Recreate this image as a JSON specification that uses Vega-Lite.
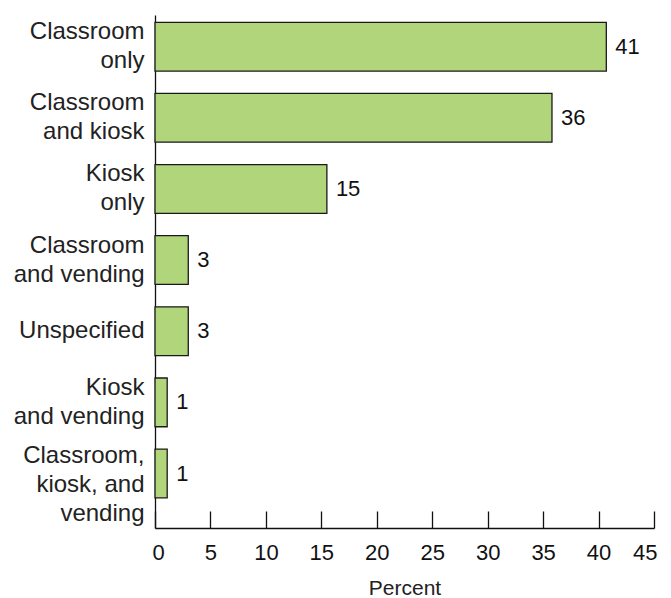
{
  "$schema": "https://vega.github.io/schema/vega-lite/v6.json",
  "autosize": {"type": "none"},
  "width": 499,
  "height": 513,
  "padding": {"left": 155, "top": 15, "right": 17, "bottom": 70},
  "background": "white",
  "config": {
    "font": "Liberation Sans",
    "view": {"stroke": null}
  },
  "data": {
    "values": [
      {"category": "Classroom|only", "percent": 40.7, "label": "41"},
      {"category": "Classroom|and kiosk", "percent": 35.8, "label": "36"},
      {"category": "Kiosk|only", "percent": 15.5, "label": "15"},
      {"category": "Classroom|and vending", "percent": 3.0, "label": "3"},
      {"category": "Unspecified", "percent": 3.0, "label": "3"},
      {"category": "Kiosk|and vending", "percent": 1.1, "label": "1"},
      {"category": "Classroom,|kiosk, and|vending", "percent": 1.1, "label": "1"}
    ]
  },
  "encoding": {
    "y": {
      "field": "category",
      "type": "nominal",
      "sort": null,
      "scale": {"paddingInner": 0.315, "paddingOuter": 0.263, "align": 0.195},
      "axis": {
        "title": null,
        "ticks": false,
        "labelExpr": "split(datum.label, '|')",
        "labelFont": "Liberation Sans",
        "labelFontSize": 24,
        "labelLineHeight": 29,
        "labelColor": "#222222",
        "labelPadding": 11,
        "labelOffset": {
          "condition": [
            {"test": "length(split(datum.value, '|')) == 3", "value": -18},
            {"test": "length(split(datum.value, '|')) == 2", "value": -14.5}
          ],
          "value": 0
        },
        "domainColor": "#111111",
        "domainWidth": 1.3,
        "labelLimit": 300
      }
    },
    "x": {
      "field": "percent",
      "type": "quantitative",
      "scale": {"domain": [0, 45], "nice": false},
      "axis": {
        "title": "Percent",
        "values": [0, 5, 10, 15, 20, 25, 30, 35, 40, 45],
        "grid": false,
        "tickSize": -17,
        "tickColor": "#111111",
        "tickWidth": 1.3,
        "domainColor": "#111111",
        "domainWidth": 1.3,
        "labelFont": "Liberation Sans",
        "labelFontSize": 22,
        "labelColor": "#111111",
        "labelPadding": 31,
        "labelFlush": true,
        "labelFlushOffset": 3,
        "titleFont": "Liberation Sans",
        "titleFontSize": 21,
        "titleFontWeight": "normal",
        "titleColor": "#222222",
        "titlePadding": 14
      }
    }
  },
  "layer": [
    {
      "mark": {"type": "bar", "fill": "#b0d57a", "stroke": "#1a1a1a", "strokeWidth": 1.3}
    },
    {
      "mark": {"type": "text", "align": "left", "baseline": "middle", "dx": 9, "fontSize": 22, "font": "Liberation Sans", "color": "#111111"},
      "encoding": {"text": {"field": "label"}}
    }
  ]
}
